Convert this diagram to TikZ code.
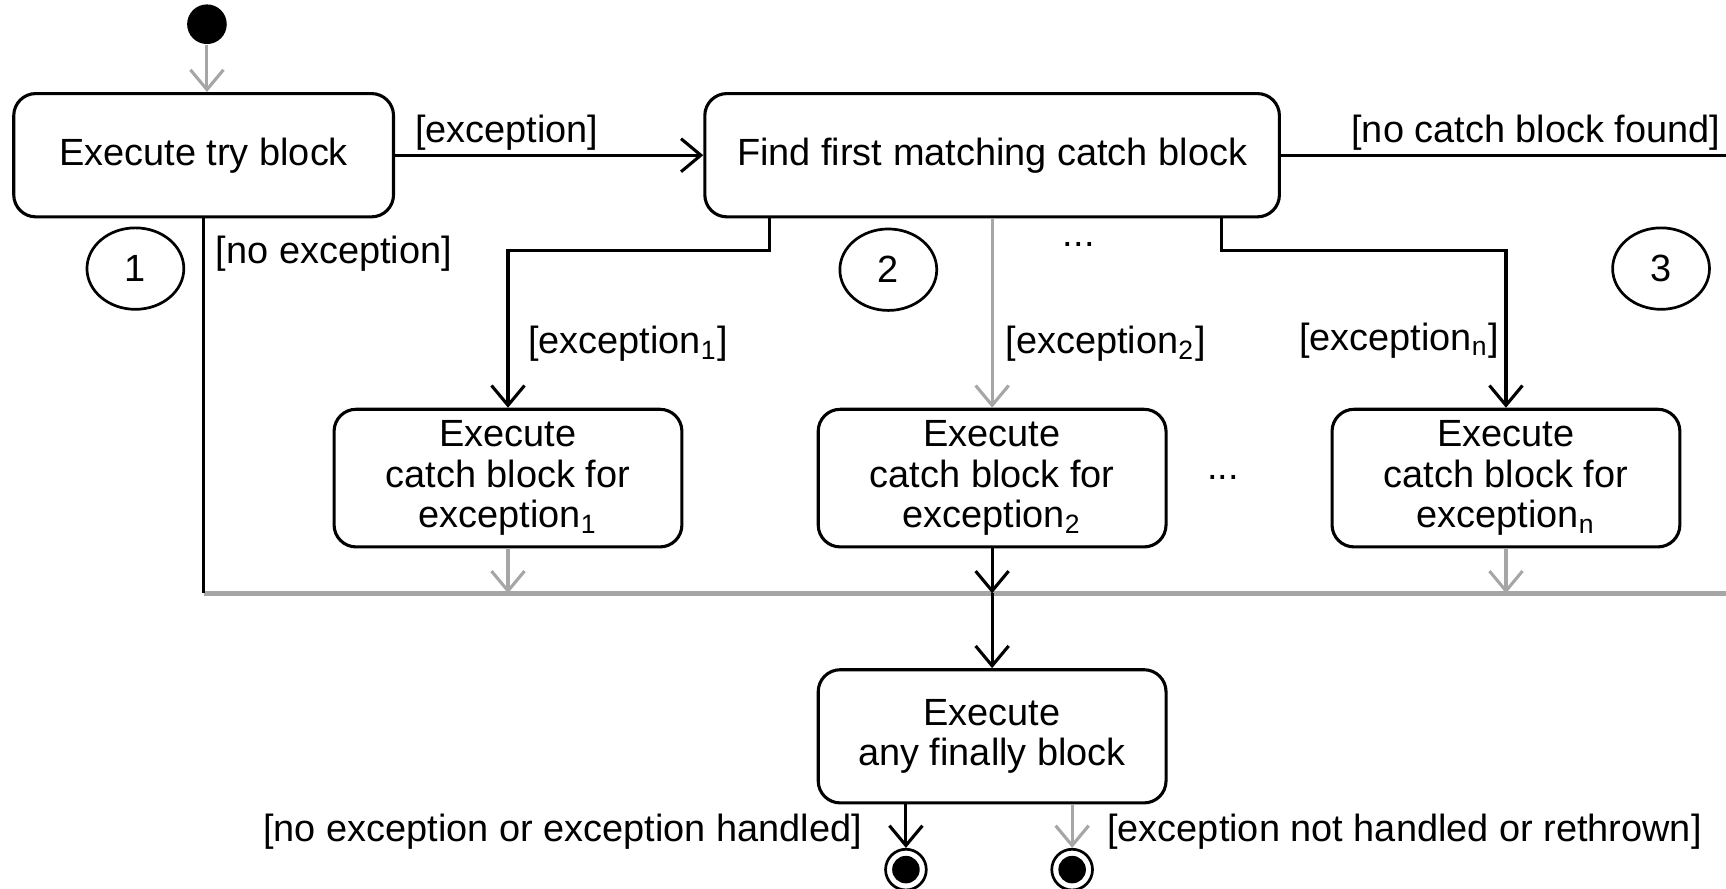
\documentclass[tikz,border=0pt]{standalone}
\usepackage{fontspec}
\setmainfont{Liberation Sans}
\usepackage{tikz}
\usetikzlibrary{arrows.meta,positioning,shapes.geometric}

\begin{document}
\begin{tikzpicture}[
    x=0.1mm, y=-0.1mm,
    font=\fontsize{9.8}{10.4}\selectfont,
    node distance=5mm and 7mm,
    act/.style={draw, rounded corners=2mm, align=center, inner sep=3pt, line width=0.8pt},
    catchbox/.style={act, minimum width=31.6mm, minimum height=12.2mm},
    note/.style={draw, ellipse, minimum width=8.8mm, minimum height=7.4mm, inner sep=0pt, line width=0.7pt},
    initial/.style={circle, fill=black, minimum size=3.6mm, inner sep=0pt},
    final/.style={circle, draw, line width=0.7pt, minimum size=3.7mm, inner sep=0pt,
        path picture={\fill (path picture bounding box.center) circle (1.25mm);}},
    lbl/.style={inner sep=1pt},
    arr/.style={-{Straight Barb[length=1.8mm, width=3mm]}, line width=0.8pt},
    garr/.style={arr, draw=black!35},
    plain/.style={line width=0.8pt},
    barline/.style={line width=1.3pt, draw=black!35}
]
\useasboundingbox (0,0) rectangle (1568,807);
\coordinate (rim) at (1568,0);

\node[initial] (start) at (188,22) {};
\node[act, minimum width=34.5mm, minimum height=11.2mm] (try) at (185,141) {Execute try block};
\node[act, minimum width=52.2mm, minimum height=11.2mm, right=28mm of try] (find) {Find first matching catch block};

\node[catchbox, below=17.2mm of find] (c2) {Execute\\catch block for\\exception\textsubscript{2}};
\node[catchbox, left=12.1mm of c2] (c1) {Execute\\catch block for\\exception\textsubscript{1}};
\node[catchbox, right=14.8mm of c2] (c3) {Execute\\catch block for\\exception\textsubscript{n}};

\coordinate (bar) at (c2 |- 0,539);
\node[act, minimum width=31.6mm, minimum height=12.1mm, below=6.8mm of bar] (fin) {Execute\\any finally block};

\node[final] (end1) at (823,790) {};
\node[final] (end2) at (974,790) {};

\node[note] (n1) at (123,244) {1};
\node[note] (n2) at (807,245) {2};
\node[note] (n3) at (1509,244) {3};

\coordinate (nocatch) at (find.east -| rim);
\coordinate (f1) at ([xshift=-20.2mm]find.south);
\coordinate (f3) at ([xshift=20.8mm]find.south);

\draw[garr] (start) -- (start |- try.north);
\draw[arr] (try) -- (find);
\draw[plain] (find) -- (nocatch);
\draw[barline] (try.south |- bar) -- (bar -| rim);
\draw[plain] (try.south) -- (try.south |- bar);

\draw[arr] (f1) -- ++(0,-2.9mm) -| (c1.north);
\draw[garr] (find) -- (c2);
\draw[arr] (f3) -- ++(0,-2.9mm) -| (c3.north);

\draw[garr] (c1) -- (c1 |- bar);
\draw[arr] (c2) -- (bar);
\draw[garr] (c3) -- (c3 |- bar);
\draw[arr] (bar) -- (fin);

\draw[arr] (fin.south -| end1) -- (end1);
\draw[garr] (fin.south -| end2) -- (end2);

\node[lbl, above right=0mm and 1.4mm of try.east] {[exception]};
\node[lbl, below right=1.2mm and 0.7mm of try.south] {[no exception]};
\node[lbl, above left=0mm and 0.1mm of nocatch] {[no catch block found]};
\node[lbl, above right=3.8mm and 1.4mm of c1.north] {[exception\textsubscript{1}]};
\node[lbl, above right=3.8mm and 0.8mm of c2.north] {[exception\textsubscript{2}]};
\node[lbl, above left=4.1mm and 0.2mm of c3.north] {[exception\textsubscript{n}]};
\node[lbl, left=1.6mm of end1, yshift=3.4mm] {[no exception or exception handled]};
\node[lbl, right=0.8mm of end2, yshift=3.4mm] {[exception not handled or rethrown]};

\node (dots1) at (980,222) {...};
\node (dots2) at (1111,434) {...};
\end{tikzpicture}
\end{document}
